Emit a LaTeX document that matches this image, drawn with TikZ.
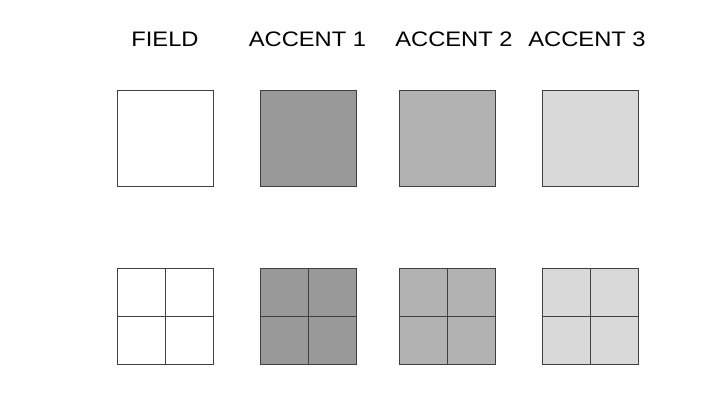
\documentclass[tikz,border=0pt]{standalone}
\usepackage{fontspec}
\setmainfont{Liberation Sans}
\usepackage{graphicx}
\usetikzlibrary{positioning}

\newcommand{\swlabel}[1]{\scalebox{1.13}[1]{#1}}

\begin{document}
\begin{tikzpicture}[x=0.75pt,y=0.75pt]
  \tikzset{
    swatch/.style={draw=black!75,line width=0.75pt,minimum size=72pt,inner sep=0pt,outer sep=0pt},
    head/.style={anchor=base,inner sep=0pt,font=\fontsize{15.75}{18}\selectfont}
  }
  \useasboundingbox (0,0) rectangle (725,416);
  % column headings
  \node[head] (hfield) at (165,369) {\swlabel{FIELD}};
  \node[head] (hacc1) at (307.5,369) {\swlabel{ACCENT 1}};
  \node[head] (hacc2) at (454,369) {\swlabel{ACCENT 2}};
  \node[head] (hacc3) at (587,369) {\swlabel{ACCENT 3}};
  % plain swatches
  \node[swatch,fill=white] (field) at (165,277) {};
  \node[swatch,fill=black!40] (acc1) at (308,277) {};
  \node[swatch,fill=black!30] (acc2) at (447.7,277) {};
  \node[swatch,fill=black!15] (acc3) at (590.5,277) {};
  % quartered swatches
  \node[swatch,fill=white] (qfield) at (165,99.5) {};
  \node[swatch,fill=black!40] (qacc1) at (308,99.5) {};
  \node[swatch,fill=black!30] (qacc2) at (447.7,99.5) {};
  \node[swatch,fill=black!15] (qacc3) at (590.5,99.5) {};
  \foreach \q in {qfield,qacc1,qacc2,qacc3} {
    \draw[black!75,line width=0.75pt] (\q.north) -- (\q.south);
    \draw[black!75,line width=0.75pt] (\q.west) -- (\q.east);
  }
\end{tikzpicture}
\end{document}
